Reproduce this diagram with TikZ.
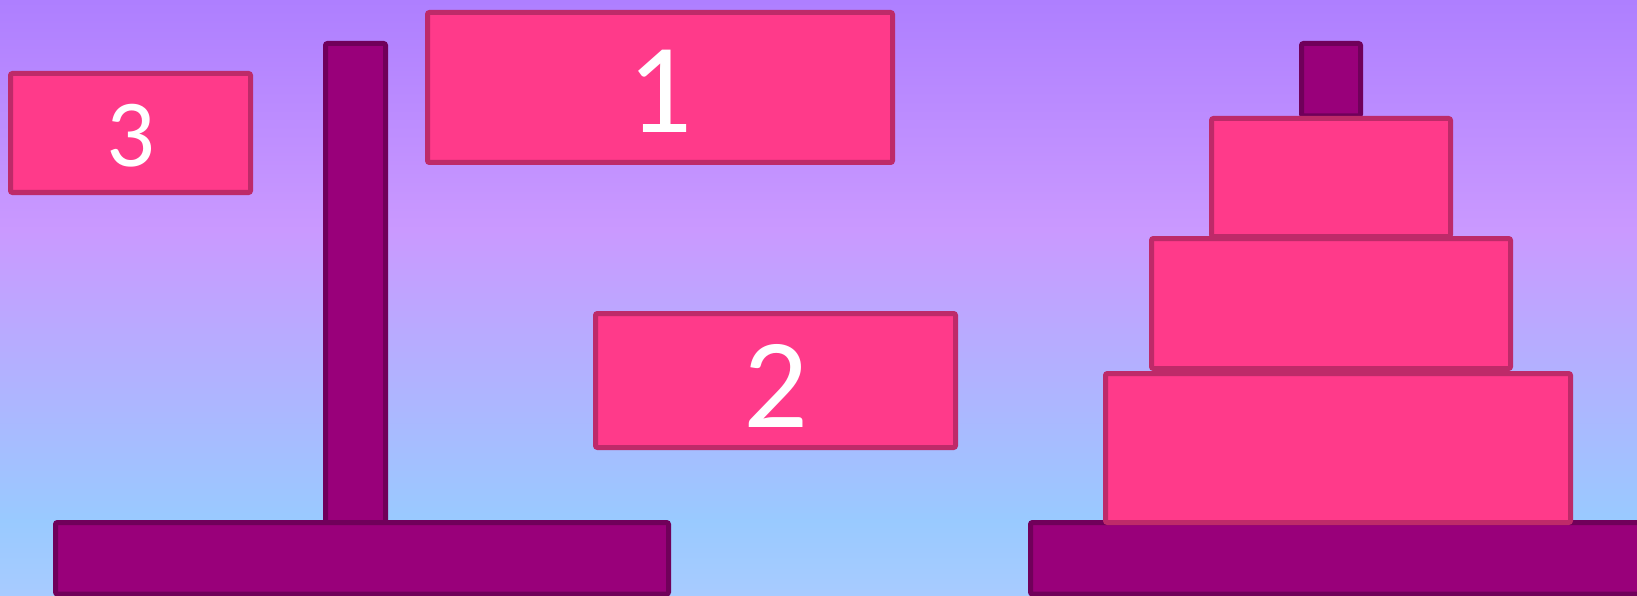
\documentclass[tikz,border=0pt]{standalone}
\usepackage{fontspec}
\setmainfont{Carlito}
\definecolor{diskfill}{HTML}{FF3A8A}
\definecolor{diskline}{HTML}{BE2A69}
\definecolor{rodfill}{HTML}{99007A}
\definecolor{rodline}{HTML}{70005A}
\definecolor{bgA}{HTML}{AE7FFF}
\definecolor{bgB}{HTML}{CA99FF}
\definecolor{bgC}{HTML}{99CAFF}
\definecolor{bgD}{HTML}{A8CBFF}
\begin{document}
\begin{tikzpicture}[x=1pt,y=-1pt,
  disk/.style={rectangle, draw=diskline, fill=diskfill, line width=5pt, rounded corners=2pt, inner sep=0pt},
  rod/.style={rectangle, draw=rodline, fill=rodfill, line width=5pt, rounded corners=2pt, inner sep=0pt},
  num/.style={text=white, anchor=base, inner sep=0pt}]
\useasboundingbox (0,0) rectangle (1637,596);
\clip (0,0) rectangle (1637,596);
% background
\shade[top color=bgA, bottom color=bgB] (0,0) rectangle (1637,231);
\shade[top color=bgB, bottom color=bgC] (0,230) rectangle (1637,521);
\shade[top color=bgC, bottom color=bgD] (0,520) rectangle (1637,596);
% poles
\node[rod, minimum width=60pt, minimum height=479.5pt] (poleL) at (355.5,283.25) {};
\node[rod, minimum width=59pt, minimum height=72.5pt] (poleR) at (1331,79.75) {};
% bases
\node[rod, minimum width=613pt, minimum height=71.5pt] (baseL) at (362,558.25) {};
\node[rod, minimum width=613pt, minimum height=71.5pt] (baseR) at (1337,558.25) {};
% loose disks
\node[disk, minimum width=240pt, minimum height=119pt] (d3) at (130.5,133) {};
\node[disk, minimum width=465pt, minimum height=150pt] (d1) at (660,87.5) {};
\node[disk, minimum width=360pt, minimum height=134pt] (d2) at (775.5,380.5) {};
% stacked disks
\node[disk, minimum width=465pt, minimum height=149pt] (r1) at (1338,448) {};
\node[disk, minimum width=359pt, minimum height=130pt] (r2) at (1331,303.5) {};
\node[disk, minimum width=239pt, minimum height=118pt] (r3) at (1331,177.5) {};
% labels
\node[num, font=\fontsize{96}{96}\selectfont] (t3) at (130.5,167) {3};
\node[num, font=\fontsize{128}{128}\selectfont] (t1) at (660,133) {1};
\node[num, font=\fontsize{128}{128}\selectfont] (t2) at (775.5,427) {2};
\end{tikzpicture}
\end{document}
